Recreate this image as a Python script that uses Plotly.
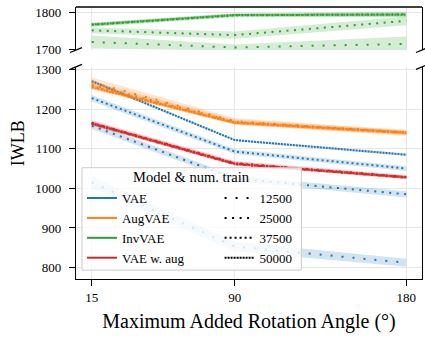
import plotly.graph_objects as go

angles = [15, 90, 180]
models = ["VAE", "AugVAE", "InvVAE", "VAE w. aug"]
n_train = ["12500", "25000", "37500", "50000"]

# mean IWLB per model / training-set size
vae_12500 = [1015, 853, 812]
vae_25000 = [1158, 1025, 985]
vae_37500 = [1228, 1093, 1050]
vae_50000 = [1271, 1122, 1085]

augvae_12500 = [1268, 1170, 1139]
augvae_25000 = [1262, 1168, 1142]
augvae_37500 = [1258, 1166, 1140]
augvae_50000 = [1255, 1166, 1141]

invvae_12500 = [1720, 1705, 1715]
invvae_25000 = [1752, 1739, 1778]
invvae_37500 = [1767, 1793, 1796]
invvae_50000 = [1768, 1794, 1795]

vaeaug_12500 = [1166, 1064, 1029]
vaeaug_25000 = [1163, 1061, 1027]
vaeaug_37500 = [1165, 1063, 1028]
vaeaug_50000 = [1164, 1062, 1028]

# spread (std) per series
vae_12500_sd = [15, 12, 10]
vae_25000_sd = [8, 7, 8]
vae_37500_sd = [8, 6, 6]
vae_50000_sd = [4, 3, 3]
augvae_12500_sd = [12, 8, 7]
augvae_25000_sd = [8, 6, 6]
augvae_37500_sd = [6, 5, 5]
augvae_50000_sd = [5, 4, 4]
invvae_12500_sd = [18, 8, 20]
invvae_25000_sd = [8, 10, 12]
invvae_37500_sd = [6, 5, 8]
invvae_50000_sd = [5, 5, 5]
vaeaug_12500_sd = [6, 5, 5]
vaeaug_25000_sd = [5, 4, 4]
vaeaug_37500_sd = [4, 4, 4]
vaeaug_50000_sd = [4, 3, 3]

colors = ["#1f77b4", "#ff7f0e", "#2ca02c", "#d62728"]
fills = ["rgba(31,119,180,0.2)", "rgba(255,127,14,0.2)",
         "rgba(44,160,44,0.2)", "rgba(214,39,40,0.2)"]
dashes = ["2px,9px", "2px,5.5px", "2px,3px", "2px,1px"]

series = [
    [(vae_12500, vae_12500_sd), (vae_25000, vae_25000_sd),
     (vae_37500, vae_37500_sd), (vae_50000, vae_50000_sd)],
    [(augvae_12500, augvae_12500_sd), (augvae_25000, augvae_25000_sd),
     (augvae_37500, augvae_37500_sd), (augvae_50000, augvae_50000_sd)],
    [(invvae_12500, invvae_12500_sd), (invvae_25000, invvae_25000_sd),
     (invvae_37500, invvae_37500_sd), (invvae_50000, invvae_50000_sd)],
    [(vaeaug_12500, vaeaug_12500_sd), (vaeaug_25000, vaeaug_25000_sd),
     (vaeaug_37500, vaeaug_37500_sd), (vaeaug_50000, vaeaug_50000_sd)],
]

FONT = "Liberation Serif, serif"
fig = go.Figure()

for mi, model in enumerate(models):
    yax = "y2" if model == "InvVAE" else "y"
    xax = "x2" if model == "InvVAE" else "x"
    for ni, (mean, sd) in enumerate(series[mi]):
        upper = [m + s for m, s in zip(mean, sd)]
        lower = [m - s for m, s in zip(mean, sd)]
        fig.add_trace(go.Scatter(
            x=angles + angles[::-1], y=upper + lower[::-1],
            fill="toself", fillcolor=fills[mi], line=dict(width=0),
            mode="lines", hoverinfo="skip", showlegend=False,
            xaxis=xax, yaxis=yax))
        fig.add_trace(go.Scatter(
            x=angles, y=mean, mode="lines",
            line=dict(color=colors[mi], width=2, dash=dashes[ni]),
            showlegend=False, xaxis=xax, yaxis=yax))

# legend entries
for mi, model in enumerate(models):
    fig.add_trace(go.Scatter(x=[None], y=[None], mode="lines", name=model,
                             line=dict(color=colors[mi], width=2),
                             legend="legend"))
for ni, n in enumerate(n_train):
    fig.add_trace(go.Scatter(x=[None], y=[None], mode="lines", name=n,
                             line=dict(color="black", width=2, dash=dashes[ni]),
                             legend="legend2"))

W, H = 425, 339
ml, mr, mt, mb = 76, 2, 4, 60
pw, ph = W - ml - mr, H - mt - mb


def px_x(p):
    return (p - ml) / pw


def px_y(p):
    return (H - mb - p) / ph


top_dom = [px_y(47.5), 1]
bot_dom = [0, px_y(64.5)]

grid = "#e6e6e6"
axis_common = dict(showgrid=True, gridcolor=grid, gridwidth=1, zeroline=False,
                   showline=True, linecolor="black", linewidth=1.3,
                   ticks="outside", ticklen=6, tickcolor="black",
                   tickfont=dict(family=FONT, size=13, color="black"))

fig.update_layout(
    width=W, height=H, margin=dict(l=ml, r=mr, t=mt, b=mb),
    paper_bgcolor="white", plot_bgcolor="white",
    font=dict(family=FONT, size=13, color="black"),
    xaxis=dict(**axis_common, range=[6.75, 188.25], tickvals=angles,
               anchor="y", mirror=False,
               title=dict(text="Maximum Added Rotation Angle (°)",
                          font=dict(family=FONT, size=20), standoff=10)),
    xaxis2=dict(showgrid=True, gridcolor=grid, zeroline=False, range=[6.75, 188.25],
                tickvals=angles, showticklabels=False, anchor="y2", matches="x",
                showline=False),
    yaxis=dict(**axis_common, domain=bot_dom, range=[771, 1307],
               tickvals=[800, 900, 1000, 1100, 1200, 1300], mirror=True,
               ticklabelstandoff=5),
    yaxis2=dict(**axis_common, domain=top_dom, range=[1698, 1816],
                tickvals=[1700, 1800], mirror=True, ticklabelstandoff=5),
    legend=dict(x=px_x(82), y=px_y(182), xanchor="left", yanchor="top",
                bgcolor="rgba(0,0,0,0)", borderwidth=0,
                font=dict(family=FONT, size=13), itemwidth=30, tracegroupgap=0),
    legend2=dict(x=px_x(220), y=px_y(182), xanchor="left", yanchor="top",
                 bgcolor="rgba(0,0,0,0)", borderwidth=0,
                 font=dict(family=FONT, size=13), itemwidth=30, tracegroupgap=0),
)

# legend frame and title
fig.add_shape(type="rect", xref="paper", yref="paper",
              x0=px_x(82), x1=px_x(302), y0=px_y(270), y1=px_y(166.5),
              line=dict(color="#cccccc", width=1), fillcolor="rgba(255,255,255,0.8)",
              layer="above")
fig.add_annotation(text="Model & num. train", xref="paper", yref="paper",
                   x=px_x(192), y=px_y(176), xanchor="center", yanchor="middle",
                   showarrow=False, font=dict(family=FONT, size=14.5))

# top spine of top panel
fig.add_shape(type="line", xref="paper", yref="paper", x0=0, x1=1, y0=1, y1=1,
              line=dict(color="black", width=1.3))

# break marks
dx, dy = 6 / pw, 2.5 / ph
for xx in (0, 1):
    for yy in (top_dom[0], bot_dom[1]):
        fig.add_shape(type="line", xref="paper", yref="paper",
                      x0=xx - dx, x1=xx + dx, y0=yy - dy, y1=yy + dy,
                      line=dict(color="black", width=1.3))

# y title centred on the full axes height
fig.add_annotation(text="IWLB", xref="paper", yref="paper", x=px_x(18), y=0.5,
                   xanchor="center", yanchor="middle",
                   textangle=-90, showarrow=False,
                   font=dict(family=FONT, size=18))

fig.write_html("out.html", config={"displayModeBar": False},
               post_script="document.body.style.margin='0';document.body.style.overflow='hidden';")
